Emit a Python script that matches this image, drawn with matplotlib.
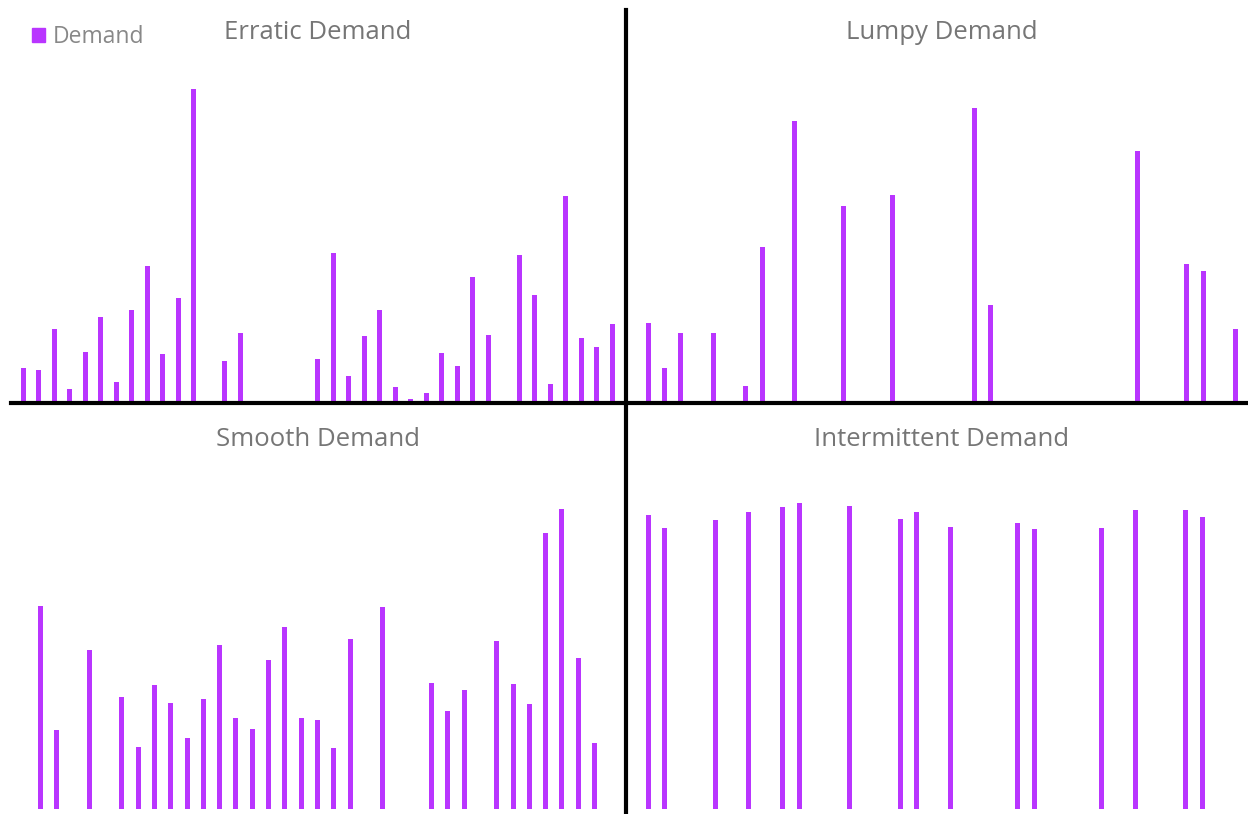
import matplotlib.pyplot as plt
from matplotlib.patches import Patch
import numpy as np

plt.rcParams['font.family'] = ['Open Sans', 'DejaVu Sans']

# demand per period, one list per panel (0 = no demand)
erratic = [35, 33, 74, 14, 51, 86, 21, 93, 137, 49, 105, 314, 0, 42, 70, 0, 0, 0, 0, 44,
           150, 27, 67, 93, 16, 4, 10, 50, 37, 126, 68, 0, 148, 108, 19, 207, 65, 56, 79]
lumpy = [80, 35, 70, 0, 70, 0, 17, 156, 0, 282, 0, 0, 197, 0, 0, 208, 0, 0, 0, 0,
         295, 98, 2, 0, 0, 0, 0, 0, 0, 0, 252, 0, 0, 139, 132, 0, 74]
smooth = [203, 79, 0, 159, 0, 112, 62, 124, 106, 71, 110, 164, 91, 80, 149, 182, 91, 89,
          61, 170, 0, 202, 0, 0, 126, 98, 119, 0, 168, 125, 105, 276, 300, 151, 66, 0]
intermittent = [294, 281, 0, 0, 289, 0, 297, 0, 302, 306, 0, 0, 303, 0, 0, 290, 297, 0,
                282, 0, 0, 0, 286, 280, 0, 0, 0, 281, 0, 299, 0, 0, 299, 292, 0, 0]

titles = ['Erratic Demand', 'Lumpy Demand', 'Smooth Demand', 'Intermittent Demand']
bar_color = '#b935ff'
title_color = '#767676'

W, H = 1248, 814
fig = plt.figure(figsize=(W / 100, H / 100), dpi=100)

def px_axes(x0, y0, x1, y1):
    # pixel box (top-left origin) -> figure fraction axes
    return fig.add_axes([x0 / W, 1 - y1 / H, (x1 - x0) / W, (y1 - y0) / H])

panels = [
    # data, box (px), first bar x px, spacing px, ylim, title pos (axes frac)
    (erratic, (11, 10, 625, 403), 23.3, 15.5, (0, 393), 0.5, 0.942),
    (lumpy, (626, 10, 1248, 403), 648, 16.33, (0, 393), 0.508, 0.942),
    (smooth, (0, 403, 625, 814), 40.3, 16.3, (-5, 406), 0.509, 0.91),
    (intermittent, (626, 403, 1248, 814), 648, 16.8, (-5, 406), 0.508, 0.91),
]

axes = []
for i, (vals, box, first, step, ylim, tx, ty) in enumerate(panels):
    ax = px_axes(*box)
    x = np.arange(len(vals))
    ax.bar(x, vals, width=5 / step, color=bar_color, linewidth=0, label='Demand')
    xmin = -(first - box[0]) / step
    ax.set_xlim(xmin, xmin + (box[2] - box[0]) / step)
    ax.set_ylim(*ylim)
    ax.set_xticks([])
    ax.set_yticks([])
    for s in ax.spines.values():
        s.set_visible(False)
    ax.patch.set_alpha(0)
    ax.text(tx, ty, titles[i], transform=ax.transAxes, ha='center', va='center',
            fontsize=18.5, color=title_color)
    axes.append(ax)

# black cross dividing the four panels
for ax in axes[:2]:
    ax.spines['bottom'].set_visible(True)
    ax.spines['bottom'].set_linewidth(3)
    ax.spines['bottom'].set_color('black')
for ax in axes[1::2]:
    ax.spines['left'].set_visible(True)
    ax.spines['left'].set_linewidth(3)
    ax.spines['left'].set_color('black')

axes[0].legend(handles=[Patch(color=bar_color, label='Demand')], loc='upper left',
               bbox_to_anchor=(0.02, 0.985), frameon=False, fontsize=16.5,
               labelcolor='#888888', handlelength=0.55, handleheight=0.55,
               handletextpad=0.35, borderaxespad=0)

fig.savefig('out.png', dpi=100)
